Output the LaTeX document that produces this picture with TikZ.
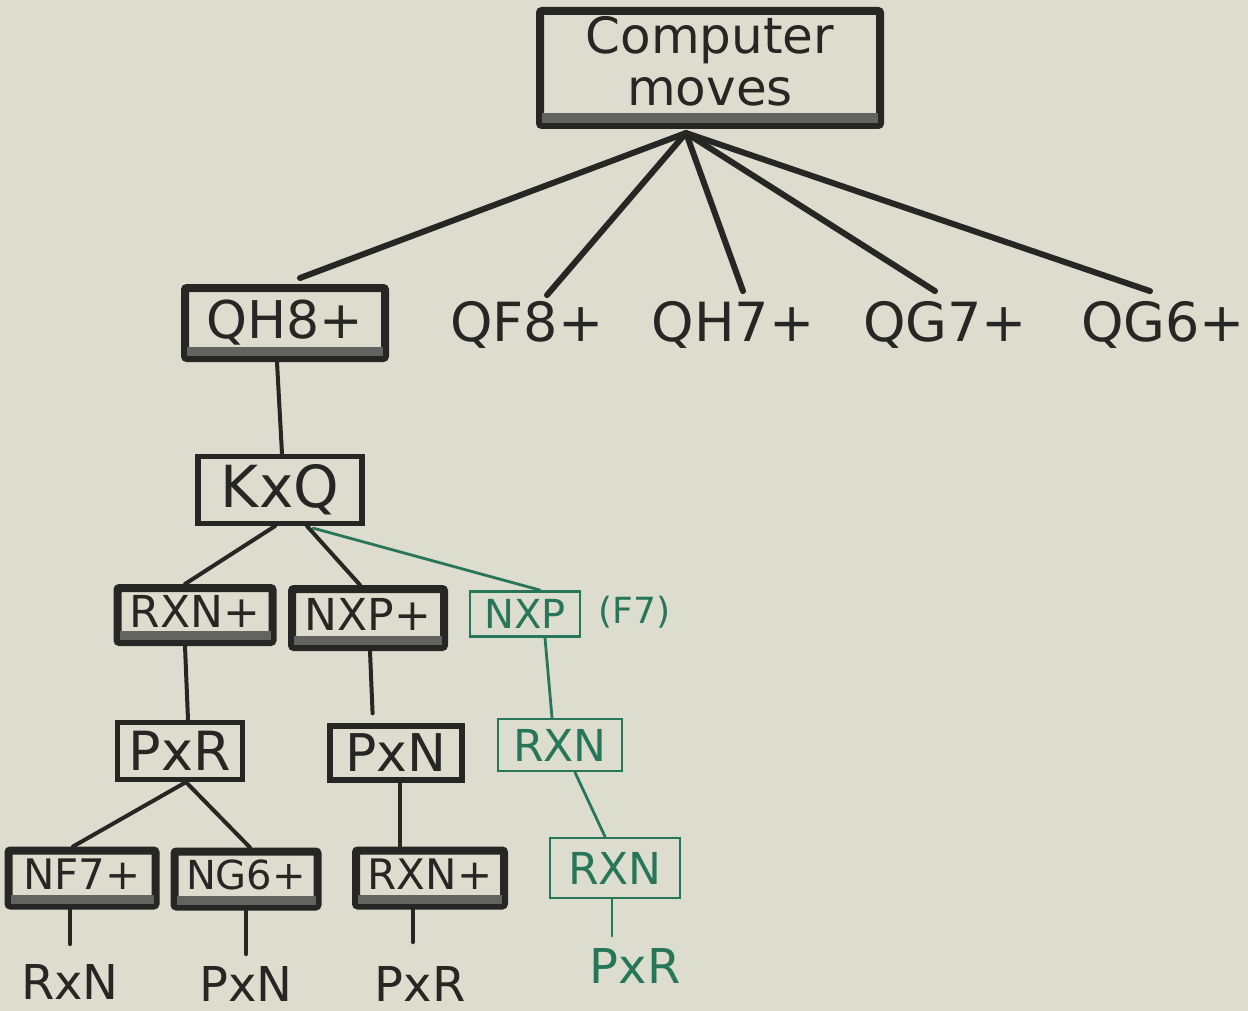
\documentclass[tikz,border=0pt]{standalone}
\usepackage{fontspec}
\setmainfont{DejaVu Sans}
\usetikzlibrary{calc}
\definecolor{paper}{RGB}{221,221,207}
\definecolor{ink}{RGB}{38,38,36}
\definecolor{pen}{RGB}{40,118,90}
\newcommand{\fsz}[1]{\fontsize{#1}{#1}\selectfont}

\begin{document}
\begin{tikzpicture}[x=0.5pt,y=-0.5pt,
  heavybox/.style={draw=ink, line width=4pt, inner sep=0pt, text=ink, rounded corners=1pt, text depth=4pt},
  plainbox/.style={draw=ink, line width=2.6pt, inner sep=0pt, text=ink},
  greenbox/.style={draw=pen, line width=1.4pt, inner sep=0pt, text=pen},
  move/.style={text=ink, inner sep=5pt},
  greenmove/.style={text=pen, inner sep=5pt},
  trunk/.style={draw=ink, line width=3pt, line cap=round},
  twig/.style={draw=ink, line width=2pt, line cap=round},
  greentwig/.style={draw=pen, line width=1.4pt, line cap=round}
]
\fill[paper] (0,0) rectangle (1248,1011);
\useasboundingbox (0,0) rectangle (1248,1011);

% root
\node[heavybox, minimum width=170pt, minimum height=57pt, align=center,
      font=\fontsize{25}{25}\selectfont, text depth=7pt]
  (comp) at (710,68) {Computer\\[1pt]moves};
\coordinate (hub) at (686,133);

% first ply
\node[heavybox, minimum width=100pt, minimum height=35pt, font=\fsz{26}] (qh8) at (285,323) {QH8+};
\node[move, font=\fsz{27}] (qf8) at (527,325) {QF8+};
\node[move, font=\fsz{27}] (qh7) at (733,325) {QH7+};
\node[move, font=\fsz{27}] (qg7) at (945,325) {QG7+};
\node[move, font=\fsz{27}] (qg6) at (1163,325) {QG6+};

% replies
\node[plainbox, minimum width=82pt, minimum height=33.5pt, font=\fsz{29}] (kxq) at (280,490) {KxQ};

\node[heavybox, minimum width=77.5pt, minimum height=27pt, font=\fsz{22}] (rxn) at (195,615) {RXN+};
\node[heavybox, minimum width=76pt, minimum height=29pt, font=\fsz{22}] (nxp) at (368,618) {NXP+};
\node[greenbox, minimum width=55pt, minimum height=22.5pt, font=\fsz{20}] (gnxp) at (525,614) {NXP};
\node[greenmove, font=\fsz{18}, anchor=west, inner sep=0pt] (f7) at (598,612) {(F7)};

\node[plainbox, minimum width=62.5pt, minimum height=28.5pt, font=\fsz{27}] (pxr) at (180,751) {PxR};
\node[plainbox, minimum width=66pt, minimum height=27pt, font=\fsz{26}] (pxn) at (396,753) {PxN};
\node[greenbox, minimum width=62pt, minimum height=26pt, font=\fsz{22}] (grxn) at (560,745) {RXN};

\node[heavybox, minimum width=73.5pt, minimum height=27.5pt, font=\fsz{21}] (nf7) at (82,878) {NF7+};
\node[heavybox, minimum width=71.5pt, minimum height=27.5pt, font=\fsz{20}] (ng6) at (246,879) {NG6+};
\node[heavybox, minimum width=74pt, minimum height=27.5pt, font=\fsz{21}] (rxn2) at (430,878) {RXN+};
\node[greenbox, minimum width=65pt, minimum height=30pt, font=\fsz{22}] (grxn2) at (615,868) {RXN};

% leaves
\node[move, font=\fsz{24}, inner sep=2pt] (l1) at (70,982) {RxN};
\node[move, font=\fsz{24}, inner sep=2pt] (l2) at (246,984) {PxN};
\node[move, font=\fsz{24}, inner sep=2pt] (l3) at (420,984) {PxR};
\node[greenmove, font=\fsz{24}, inner sep=2pt] (l4) at (635,966) {PxR};

% smudged lower edge of the heavy boxes
\foreach \n in {qh8,rxn,nxp,nf7,ng6,rxn2}
  \fill[ink!72] ($(\n.south west)+(6,-15)$) rectangle ($(\n.south east)+(-6,-6)$);
\fill[ink!72] ($(comp.south west)+(6,-16)$) rectangle ($(comp.south east)+(-6,-6)$);

% root edges
\draw[trunk] (hub) -- ($(qh8.north)+(15,-6)$);
\draw[trunk] (hub) -- ($(qf8.north)+(20,4)$);
\draw[trunk] (hub) -- ($(qh7.north)+(10,0)$);
\draw[trunk] (hub) -- ($(qg7.north)+(-10,0)$);
\draw[trunk] (hub) -- ($(qg6.north)+(-13,0)$);

% main line
\draw[twig] ($(qh8.south)+(-8,0)$) -- ($(kxq.north)+(2,0)$);
\draw[twig] ($(kxq.south)+(-5,0)$) -- ($(rxn.north)+(-10,0)$);
\draw[twig] ($(kxq.south)+(27,0)$) -- ($(nxp.north)+(-8,0)$);
\draw[greentwig] ($(kxq.south)+(33,2)$) -- ($(gnxp.north)+(15,0)$);

\draw[twig] ($(rxn.south)+(-10,0)$) -- ($(pxr.north)+(8,0)$);
\draw[twig, shorten >=5pt] ($(nxp.south)+(2,0)$) -- ($(pxn.north)+(-23,0)$);
\draw[greentwig] ($(gnxp.south)+(20,0)$) -- ($(grxn.north)+(-8,0)$);

\draw[twig] ($(pxr.south)+(6,0)$) -- ($(nf7.north)+(-9,0)$);
\draw[twig] ($(pxr.south)+(6,0)$) -- ($(ng6.north)+(4,0)$);
\draw[twig] ($(pxn.south)+(4,0)$) -- ($(rxn2.north)+(-30,0)$);
\draw[greentwig] ($(grxn.south)+(15,0)$) -- ($(grxn2.north)+(-10,0)$);

% leaf edges
\draw[twig, shorten >=8pt] (nf7.south -| l1.north) -- (l1.north);
\draw[twig, shorten >=4pt] (ng6.south -| l2.north) -- (l2.north);
\draw[twig, shorten >=10pt] ($(rxn2.south)+(-17,0)$) -- ($(l3.north)+(-7,0)$);
\draw[greentwig, shorten >=4pt] ($(grxn2.south)+(-3,0)$) -- ($(l4.north)+(-23,0)$);
\end{tikzpicture}
\end{document}
